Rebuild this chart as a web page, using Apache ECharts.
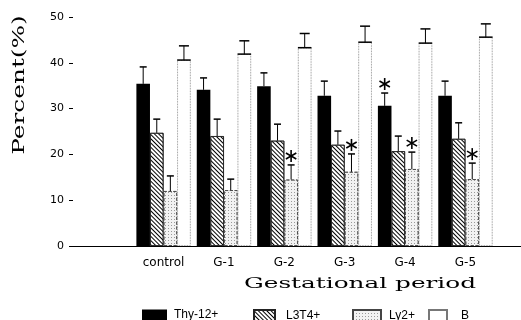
<!DOCTYPE html>
<html>
<head>
<meta charset="utf-8">
<script src="https://cdn.jsdelivr.net/npm/echarts@6/dist/echarts.min.js"></script>
<style>html,body{margin:0;padding:0;background:#fff}#c{width:521px;height:320px}</style>
</head>
<body>
<div id="c"></div>
<script>
// ---- data ----
const groups = ['control', 'G-1', 'G-2', 'G-3', 'G-4', 'G-5'];
const seriesNames = ['Thy-12+', 'L3T4+', 'Ly2+', 'B'];
const thyVals = [35.4, 34.1, 34.9, 32.8, 30.6, 32.8];
const thyErr  = [39.1, 36.7, 37.8, 36.0, 33.4, 36.0];
const l3t4Vals = [24.7, 24.0, 23.0, 22.1, 20.7, 23.4];
const l3t4Err  = [27.7, 27.7, 26.6, 25.1, 24.0, 26.9];
const ly2Vals = [12.0, 12.2, 14.5, 16.2, 16.8, 14.6];
const ly2Err  = [15.3, 14.6, 17.7, 20.1, 20.5, 18.1];
const bVals = [40.6, 41.9, 43.3, 44.5, 44.3, 45.6];
const bErr  = [43.7, 44.8, 46.4, 48.0, 47.4, 48.5];
// significance stars: [group, series]
const stars = [['G-2', 'Ly2+'], ['G-3', 'Ly2+'], ['G-4', 'Thy-12+'], ['G-4', 'Ly2+'], ['G-5', 'Ly2+']];
const yTicks = [0, 10, 20, 30, 40, 50];

// ---- build ----
const cats = [''].concat(groups).concat(['']);
const pad = a => [null].concat(a).concat([null]);
const allVals = [thyVals, l3t4Vals, ly2Vals, bVals];
const allErr = [thyErr, l3t4Err, ly2Err, bErr];

const errData = [];
allVals.forEach((vals, k) => vals.forEach((v, i) => errData.push([i + 1, v, allErr[k][i], k])));
const starData = stars.map(([g, s]) => {
  const i = groups.indexOf(g), k = seriesNames.indexOf(s);
  return [i + 1, allErr[k][i], k];
});

const chart = echarts.init(document.getElementById('c'), null, {renderer: 'canvas'});

const styles = [
  {color: '#000', borderColor: '#000', borderWidth: 0},
  {color: '#fff', borderColor: '#222', borderWidth: 0.8,
   decal: {symbol: 'rect', symbolSize: 1, dashArrayX: [1, 0], dashArrayY: [1, 2], rotation: Math.PI / 4, color: '#000'}},
  {color: '#f2f2f2', borderColor: '#444', borderWidth: 0.8, borderType: 'dashed',
   decal: {symbol: 'rect', symbolSize: 1, dashArrayX: [1, 2], dashArrayY: [1, 2], color: '#9a9a9a'}},
  {color: '#fff', borderColor: '#777', borderWidth: 0.8, borderType: 'dotted'}
];

const barSeries = seriesNames.map((n, k) => ({
  name: n, type: 'bar', data: pad(allVals[k]),
  barGap: 0, barCategoryGap: '10%',
  itemStyle: styles[k], z: 2, silent: true
}));

function bandInfo(api, x, k) {
  const band = api.size([1, 0])[0];
  const bw = band * 0.9 / 4;
  const c = api.coord([x, 0]);
  return {cx: c[0] + (k - 1.5) * bw, bw: bw};
}

const legendLeft = [142, 253, 352, 428];
const legendW = [25, 21, 28, 18];
const legendTextPad = [2, 6, 3, 9];
const legends = seriesNames.map((n, k) => ({
  data: [n], left: legendLeft[k], top: 309, padding: 0, icon: 'rect',
  itemWidth: legendW[k], itemHeight: 11, selectedMode: false,
  textStyle: {fontFamily: 'Liberation Sans', fontSize: 12, color: '#000', padding: [0, 0, 0, legendTextPad[k]]}
}));

const option = {
  animation: false,
  textStyle: {fontFamily: 'DejaVu Sans'},
  grid: {left: 73, top: 17, width: 483, height: 229, outerBoundsMode: 'none', containLabel: false},
  legend: legends,
  xAxis: {
    type: 'category', data: cats,
    axisLine: {lineStyle: {color: '#000', width: 1}},
    axisTick: {show: false},
    axisLabel: {interval: 0, color: '#000', fontSize: 12, fontFamily: 'DejaVu Sans', margin: 11}
  },
  yAxis: {
    type: 'value', min: 0, max: 50, interval: 10,
    splitLine: {show: false},
    axisLine: {show: false},
    axisTick: {show: true, length: 4, lineStyle: {color: '#000'}},
    axisLabel: {color: '#000', fontSize: 11, fontFamily: 'DejaVu Sans', margin: 9,
      formatter: v => (yTicks.indexOf(v) >= 0 ? String(v) : '')}
  },
  graphic: [
    {type: 'text', x: 20, y: 85, rotation: Math.PI / 2, scaleX: 1.55,
     style: {text: 'Percent(%)', font: '16px "DejaVu Serif"', fill: '#000', align: 'center', verticalAlign: 'middle'}},
    {type: 'text', x: 360, y: 284, scaleX: 1.65,
     style: {text: 'Gestational period', font: '15px "DejaVu Serif"', fill: '#000', align: 'center', verticalAlign: 'middle'}}
  ],
  series: barSeries.concat([
    {
      type: 'custom', name: 'err', data: errData, z: 5, silent: true,
      encode: {x: 0, y: [1, 2]},
      renderItem: (params, api) => {
        const x = api.value(0), v = api.value(1), e = api.value(2), k = api.value(3);
        const b = bandInfo(api, x, k);
        const yv = api.coord([x, v])[1], ye = api.coord([x, e])[1];
        const cap = k === 3 ? 10 : 7;
        const children = [
          {type: 'line', shape: {x1: b.cx, y1: yv, x2: b.cx, y2: ye}, style: {stroke: '#000', lineWidth: 1}},
          {type: 'line', shape: {x1: b.cx - cap / 2, y1: ye, x2: b.cx + cap / 2, y2: ye}, style: {stroke: '#000', lineWidth: 1.5}}
        ];
        if (k === 3) {
          children.push({type: 'line', shape: {x1: b.cx - b.bw / 2, y1: yv, x2: b.cx + b.bw / 2, y2: yv}, style: {stroke: '#000', lineWidth: 1.5}});
        }
        return {type: 'group', children: children};
      }
    },
    {
      type: 'custom', name: 'star', data: starData, z: 6, silent: true,
      encode: {x: 0, y: 1},
      renderItem: (params, api) => {
        const x = api.value(0), e = api.value(1), k = api.value(2);
        const b = bandInfo(api, x, k);
        const cy = api.coord([x, e])[1] - 9, cx = b.cx;
        const r = 6, children = [];
        [90, 30, 150].forEach(a => {
          const t = a * Math.PI / 180;
          children.push({type: 'line', shape: {x1: cx - r * Math.cos(t), y1: cy - r * Math.sin(t), x2: cx + r * Math.cos(t), y2: cy + r * Math.sin(t)},
            style: {stroke: '#000', lineWidth: 1.6}});
        });
        return {type: 'group', children: children};
      }
    }
  ])
};
chart.setOption(option);
</script>
</body>
</html>
